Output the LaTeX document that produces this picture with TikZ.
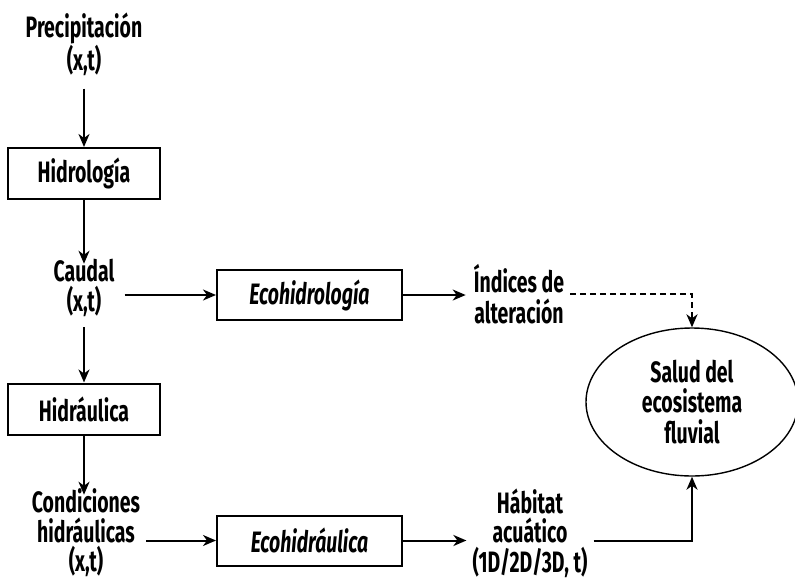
\documentclass[tikz,border=0pt]{standalone}
\usepackage{fontspec}
\setmainfont{Fira Sans}[FakeStretch=0.66]
\usetikzlibrary{arrows.meta,shapes.geometric,calc}
\begin{document}
\begin{tikzpicture}[x=1pt,y=-1pt,
  every node/.style={font=\fontsize{29.5}{30.5}\selectfont\bfseries, text=black},
  txt/.style={align=center, inner sep=0pt},
  tight/.style={font=\fontsize{29.5}{29.5}\selectfont\bfseries},
  boxnode/.style={draw, line width=2pt, minimum width=152pt, minimum height=51pt, inner sep=0pt},
  wbox/.style={boxnode, minimum width=185pt, minimum height=50pt},
  tip/.style={-{Stealth[length=13pt,width=11pt,inset=4pt]}},
  arr/.style={line width=2pt, tip},
  ln/.style={line width=2pt},
  ell/.style={draw, ellipse, line width=1.4pt, minimum width=212pt, minimum height=148pt, inner sep=0pt, align=center}]
\useasboundingbox (0,0) rectangle (795,582);
\node[txt] (prec) at (84,44) {Precipitación\\(x,t)};
\node[boxnode] (hidro) at (84,173.5) {Hidrología};
\node[txt] (caudal) at (84,288) {Caudal\\(x,t)};
\node[boxnode] (hidra) at (84,409) {Hidráulica};
\node[txt, tight] (cond) at (86,533) {Condiciones\\hidráulicas\\(x,t)};
\node[wbox] (ecohidro) at (309.5,295) {\itshape Ecohidrología};
\node[wbox] (ecohidra) at (309.5,540.5) {\itshape Ecohidráulica};
\node[txt] (ind) at (519,294) {Índices de\\alteración};
\node[txt, tight] (hab) at (530,533) {Hábitat\\acuático\\(1D/2D/3D, t)};
\node[ell] (salud) at (692,402) {Salud del\\ecosistema\\fluvial};
\coordinate (dcorner) at (salud.north |- ind);
\coordinate (hcorner) at (salud.south |- ecohidra.east);
\draw[arr] ([yshift=-13pt]prec.south) -- (hidro.north);
\draw[arr] (hidro.south) -- ([yshift=-5pt]hidro.south |- caudal.north);
\draw[arr] ([yshift=-10pt]caudal.south) -- (hidra.north);
\draw[arr] (hidra.south) -- ([yshift=-6pt]hidra.south |- cond.north);
\draw[arr] ([xshift=10pt]caudal.east |- ecohidro.west) -- (ecohidro.west);
\draw[arr] (ecohidro.east) -- ([xshift=-8pt]ind.west |- ecohidro.east);
\draw[arr] ([xshift=6pt]cond.east |- ecohidra.west) -- (ecohidra.west);
\draw[arr] (ecohidra.east) -- ([xshift=-6pt]hab.west |- ecohidra.east);
\draw[ln, dashed, dash pattern=on 6pt off 4pt, tip] ([xshift=6pt]ind.east) -- (dcorner) -- (salud.north);
\draw[ln, tip] ([xshift=6pt]hab.east |- hcorner) -- (hcorner) -- (salud.south);
\end{tikzpicture}
\end{document}
